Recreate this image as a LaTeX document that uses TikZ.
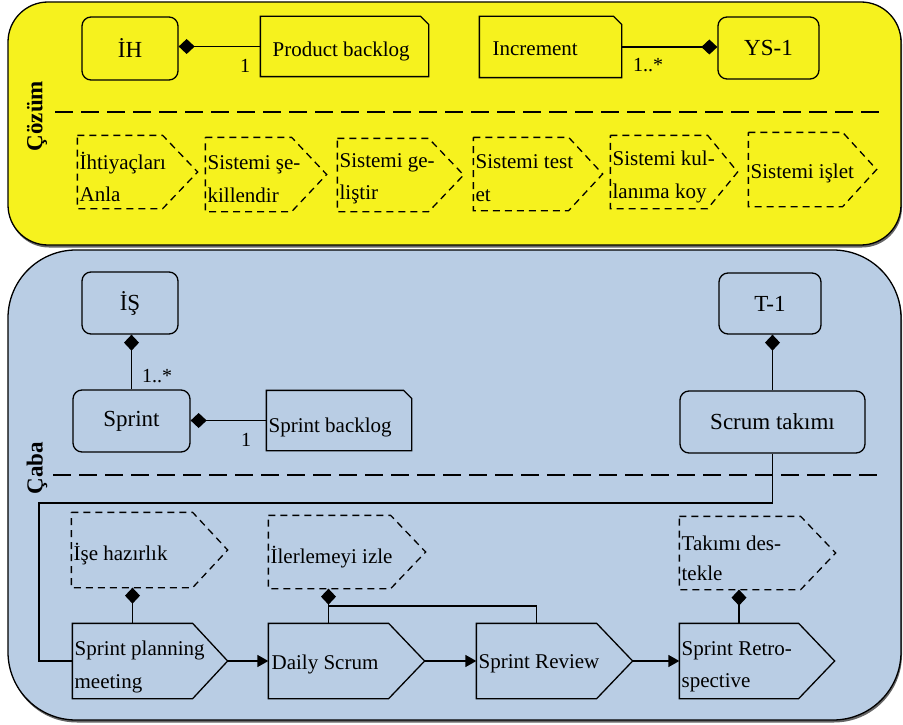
\documentclass[tikz,border=0pt]{standalone}
\usepackage{fontspec}
\setmainfont{Liberation Serif}
\usetikzlibrary{arrows.meta,fit}
\definecolor{ylw}{RGB}{246,242,30}
\definecolor{blu}{RGB}{185,205,228}
\newcommand\pentshape[3]{\draw[#3] (#1.north west) -- ([xshift=-#2]#1.north east) -- (#1.east) -- ([xshift=-#2]#1.south east) -- (#1.south west) -- cycle;}
\newcommand\docshape[1]{\draw (#1.south west) -- (#1.north west) -- ([xshift=-8pt]#1.north east) -- ([yshift=-8pt]#1.north east) -- (#1.south east) -- cycle;}
\begin{document}
\begin{tikzpicture}[x=1pt,y=-1pt, line width=1.3pt,
 bb/.style={inner sep=0pt},
 txt/.style={inner sep=0pt, align=left, font=\fontsize{21}{32.5}\selectfont, anchor=west},
 rbox/.style={draw, rounded corners=9pt, inner sep=0pt, font=\fontsize{23}{28}\selectfont},
 comp/.style={-{Diamond[length=16pt,width=15pt]}},
 flow/.style={-{Triangle[length=11pt,width=12pt]}},
 sepline/.style={dash pattern=on 18pt off 8pt, line width=1.4pt},
 dsh/.style={dash pattern=on 7pt off 5pt},
 lbl/.style={font=\fontsize{20}{24}\selectfont, inner sep=0pt},
 side/.style={font=\bfseries\fontsize{23}{28}\selectfont, rotate=90, inner sep=0pt}]
\useasboundingbox (0,0) rectangle (903,725);
% regions
\fill[black!60, rounded corners=40pt] (9,4) rectangle (902,247.5);
\filldraw[fill=ylw, draw=black, rounded corners=40pt] (8,2) rectangle (901,245);
\fill[black!60, rounded corners=68pt] (9,252) rectangle (902,722.5);
\filldraw[fill=blu, draw=black, rounded corners=68pt] (8,250) rectangle (901,720);
\node[side] (cozum) at (37,116) {Çözüm};
\node[side] (caba) at (37,468) {Çaba};
\draw[sepline] (55,112) -- (882,112);
\draw[sepline] (53,475) -- (880,475);
% top objects
\node[rbox, fit={(82,17)(178,80)}] (ih) {};
\node[font=\fontsize{23}{28}\selectfont, inner sep=0pt] (iht) at (ih.center) {İH};
\node[bb, fit={(261,17)(428,76)}] (pb) {};
\docshape{pb}
\node[txt] (pbt) at (272,51) {Product backlog};
\node[bb, fit={(480,17)(621,77)}] (inc) {};
\docshape{inc}
\node[txt] (inct) at (492,49) {Increment};
\node[rbox, fit={(718,17)(819,79)}] (ys) {};
\node[font=\fontsize{23}{28}\selectfont, inner sep=0pt] (yst) at (ys.center) {YS-1};
\draw[comp] (pb.west) -- (pb.west -| ih.east);
\node[lbl] (l1) at (245,66) {1};
\draw[comp] (inc.east) -- (inc.east -| ys.west);
\node[lbl] (l2) at (648,65) {1..*};
% top activities
\node[bb, fit={(78,136)(197,208)}] (d1) {}; \pentshape{d1}{35pt}{dsh}
\node[txt] (d1t) at (79,177) {İhtiyaçları\\Anla};
\node[bb, fit={(206,138)(326,211)}] (d2) {}; \pentshape{d2}{35pt}{dsh}
\node[txt] (d2t) at (207,179) {Sistemi şe-\\killendir};
\node[bb, fit={(338,139)(463,211)}] (d3) {}; \pentshape{d3}{35pt}{dsh}
\node[txt] (d3t) at (339,179) {Sistemi ge-\\liştir};
\node[bb, fit={(474,138)(602,210)}] (d4) {}; \pentshape{d4}{34pt}{dsh}
\node[txt] (d4t) at (475,178) {Sistemi test\\et};
\node[bb, fit={(611,136)(737,208)}] (d5) {}; \pentshape{d5}{30pt}{dsh}
\node[txt] (d5t) at (612,177) {Sistemi kul-\\lanıma koy};
\node[bb, fit={(749,133)(876,206)}] (d6) {}; \pentshape{d6}{34pt}{dsh}
\node[txt] (d6t) at (750,173) {Sistemi işlet};
% lower objects
\node[rbox, fit={(82,272)(178,334)}] (is) {};
\node[font=\fontsize{23}{28}\selectfont, inner sep=0pt] (ist) at (is.center) {İŞ};
\node[rbox, fit={(73,390)(190,452)}] (sprint) {};
\node[font=\fontsize{23}{28}\selectfont, inner sep=0pt] (sprintt) at (sprint.center) {Sprint};
\node[bb, fit={(267,391)(411,450)}] (sb) {};
\docshape{sb}
\node[txt] (sbt) at (268,427) {Sprint backlog};
\node[rbox, fit={(719,273)(821,334)}] (t1) {};
\node[font=\fontsize{23}{28}\selectfont, inner sep=0pt] (t1t) at (t1.center) {T-1};
\node[rbox, fit={(680,391)(865,453)}] (scrum) {};
\node[font=\fontsize{23}{28}\selectfont, inner sep=0pt] (scrumt) at (scrum.center) {Scrum takımı};
\draw[comp] (sprint.north) -- (sprint.north |- is.south);
\node[lbl] (l3) at (157,376) {1..*};
\draw[comp] (sb.west) -- (sb.west -| sprint.east);
\node[lbl] (l4) at (246,440) {1};
\draw[comp] (scrum.north) -- (scrum.north |- t1.south);
% lower activities
\node[bb, fit={(72,513)(227,587)}] (ise) {}; \pentshape{ise}{35pt}{dsh}
\node[txt] (iset) at (73,554) {İşe hazırlık};
\node[bb, fit={(269,516)(425,588)}] (iler) {}; \pentshape{iler}{35pt}{dsh}
\node[txt] (ilert) at (270,557) {İlerlemeyi izle};
\node[bb, fit={(680,517)(835,589)}] (tak) {}; \pentshape{tak}{35pt}{dsh}
\node[txt, font=\fontsize{21}{30}\selectfont] (takt) at (681,558) {Takımı des-\\tekle};
\node[bb, fit={(73,624)(227,698)}] (spm) {}; \pentshape{spm}{35pt}{}
\node[txt] (spmt) at (74,667) {Sprint planning\\meeting};
\node[bb, fit={(269,624)(424,698)}] (ds) {}; \pentshape{ds}{36pt}{}
\node[txt] (dst) at (271,664) {Daily Scrum};
\node[bb, fit={(477,624)(632,698)}] (sr) {}; \pentshape{sr}{36pt}{}
\node[txt] (srt) at (478,664) {Sprint Review};
\node[bb, fit={(680,624)(834,698)}] (retro) {}; \pentshape{retro}{36pt}{}
\node[txt] (retrot) at (681,667) {Sprint Retro-\\spective};
% connectors
\coordinate (c1) at (39,503);
\draw (scrum.south) |- (c1) |- (spm.west);
\draw[comp] ([xshift=-17.5pt]spm.north) -- ([xshift=-17.5pt]spm.north |- ise.south);
\draw[comp] ([xshift=-18pt]ds.north) -- ([xshift=-18pt]ds.north |- iler.south);
\coordinate (j) at ([xshift=-18pt]ds.north |- 0,606);
\draw ([xshift=-18pt]sr.north) |- (j);
\draw[comp] ([xshift=-18pt]retro.north) -- ([xshift=-18pt]retro.north |- tak.south);
\draw[flow] (spm.east) -- (ds.west);
\draw[flow] (ds.east) -- (sr.west);
\draw[flow] (sr.east) -- (retro.west);
\end{tikzpicture}
\end{document}
